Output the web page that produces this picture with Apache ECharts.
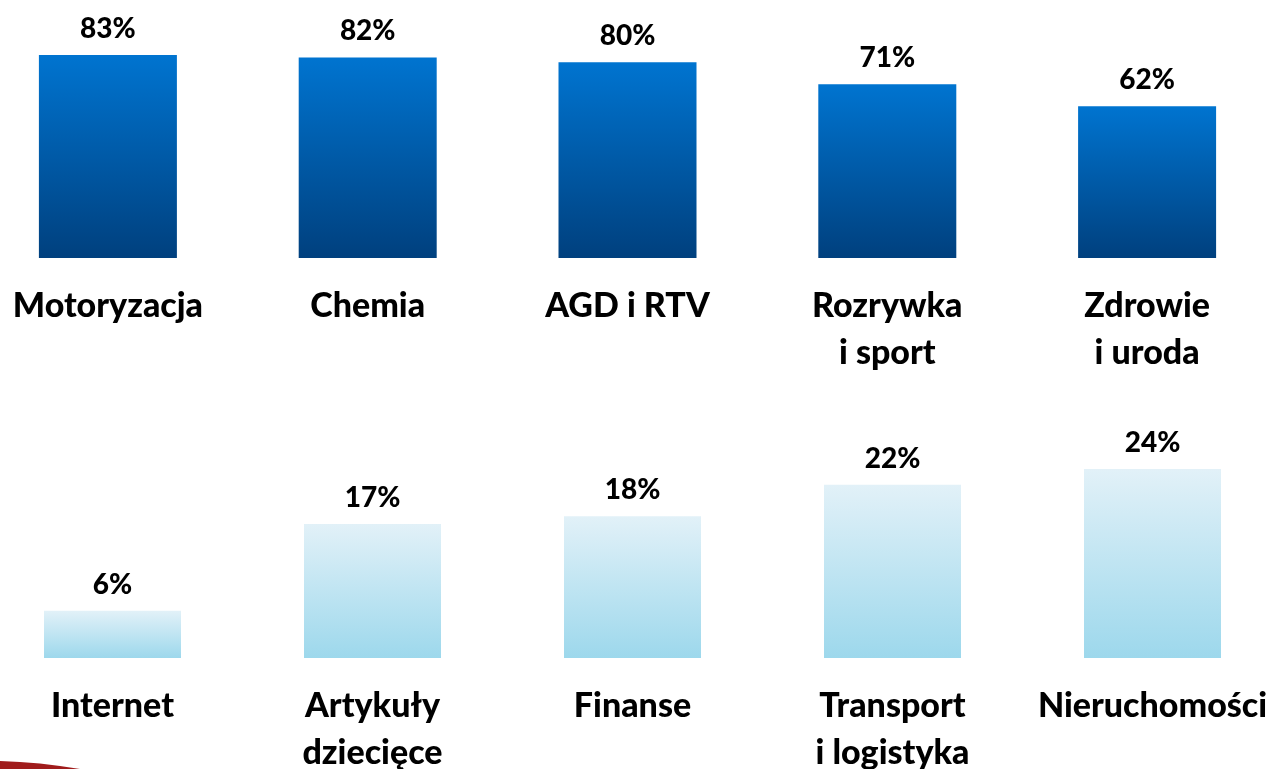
<!DOCTYPE html>
<html><head><meta charset="utf-8">
<script src="https://cdn.jsdelivr.net/npm/echarts@6/dist/echarts.min.js"></script>
<style>html,body{margin:0;padding:0;background:#fff}#c{width:1270px;height:769px}</style>
</head><body><div id="c"></div>
<script>
const topCategories = ['Motoryzacja', 'Chemia', 'AGD i RTV', 'Rozrywka\ni sport', 'Zdrowie\ni uroda'];
const topValues = [83, 82, 80, 71, 62];
const bottomCategories = ['Internet', 'Artykuły\ndziecięce', 'Finanse', 'Transport\ni logistyka', 'Nieruchomości'];
const bottomValues = [6, 17, 18, 22, 24];

const FONT = 'Lato';
const chart = echarts.init(document.getElementById('c'), null, {renderer: 'canvas'});
const grad = (a, b) => new echarts.graphic.LinearGradient(0, 0, 0, 1, [{offset: 0, color: a}, {offset: 1, color: b}]);
const axisLabel = {fontFamily: FONT, fontWeight: 900, fontSize: 34, color: '#000', lineHeight: 47, margin: 25, interval: 0};
const valLabel = {show: true, position: 'top', distance: 12, formatter: '{c}%', fontFamily: FONT, fontWeight: 900, fontSize: 28, color: '#000'};
chart.setOption({
  animation: false,
  grid: [
    {left: -22, width: 1299, bottom: 511, height: 244.6, outerBoundsMode: 'none', containLabel: false},
    {left: -17.5, width: 1300, bottom: 111, height: 236.4, outerBoundsMode: 'none', containLabel: false}
  ],
  xAxis: [
    {type: 'category', gridIndex: 0, data: topCategories, axisLine: {show: false}, axisTick: {show: false}, axisLabel: axisLabel},
    {type: 'category', gridIndex: 1, data: bottomCategories, axisLine: {show: false}, axisTick: {show: false}, axisLabel: axisLabel}
  ],
  yAxis: [
    {type: 'value', gridIndex: 0, min: 0, max: 100, show: false},
    {type: 'value', gridIndex: 1, min: 0, max: 30, show: false}
  ],
  series: [
    {type: 'bar', xAxisIndex: 0, yAxisIndex: 0, data: topValues, barWidth: 138,
     itemStyle: {color: grad('#0074D0', '#00407E')}, label: valLabel},
    {type: 'bar', xAxisIndex: 1, yAxisIndex: 1, data: bottomValues, barWidth: 137,
     itemStyle: {color: grad('#E2F1F8', '#9DD8EC')}, label: valLabel}
  ],
  graphic: [
    {type: 'polygon', shape: {points: [[0, 761], [20, 762], [40, 763.5], [60, 766], [80, 769], [0, 769]]},
     style: {fill: '#A01C1C'}}
  ]
});
</script></body></html>
